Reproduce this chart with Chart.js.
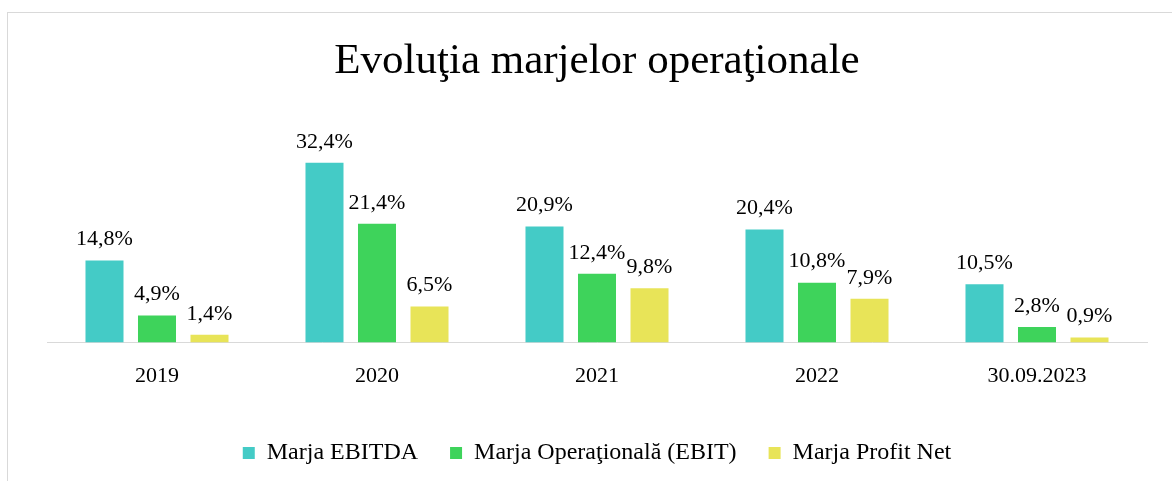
<!DOCTYPE html>
<html>
<head>
<meta charset="utf-8">
<script src="https://cdn.jsdelivr.net/npm/chart.js@4"></script>
<style>
  body { margin: 0; background: #fff; overflow: hidden; }
  #frame { position: absolute; left: 7px; top: 12px; width: 1190px; height: 490px; border: 1px solid #d9d9d9; }
  #marje { position: absolute; left: 0; top: 0; }
</style>
</head>
<body>
<div id="frame"></div>
<canvas id="marje" width="1172" height="481"></canvas>
<script>
var categories = ['2019', '2020', '2021', '2022', '30.09.2023'];
var ebitda = [14.8, 32.4, 20.9, 20.4, 10.5];
var ebit = [4.9, 21.4, 12.4, 10.8, 2.8];
var profitNet = [1.4, 6.5, 9.8, 7.9, 0.9];
var seriesNames = ['Marja EBITDA', 'Marja Operaţională (EBIT)', 'Marja Profit Net'];

var serif = "'Liberation Serif', 'Times New Roman', serif";

// etichete cu valoarea deasupra fiecarei coloane
var valueLabels = {
    id: 'valueLabels',
    afterDatasetsDraw: function(chart) {
        var ctx = chart.ctx;
        ctx.save();
        ctx.font = '22px ' + serif;
        ctx.fillStyle = '#000';
        ctx.textAlign = 'center';
        ctx.textBaseline = 'bottom';
        chart.data.datasets.forEach(function(ds, i) {
            chart.getDatasetMeta(i).data.forEach(function(bar, j) {
                var txt = ds.data[j].toFixed(1).replace('.', ',') + '%';
                ctx.fillText(txt, bar.x, bar.y - 10);
            });
        });
        ctx.restore();
    }
};

var ctx = document.getElementById('marje');
var chart = new Chart(ctx, {
    type: 'bar',
    data: {
        labels: categories,
        datasets: [
            { label: seriesNames[0], data: ebitda, backgroundColor: '#44cbc6' },
            { label: seriesNames[1], data: ebit, backgroundColor: '#3ed35b' },
            { label: seriesNames[2], data: profitNet, backgroundColor: '#e8e458' }
        ]
    },
    options: {
        responsive: false,
        animation: false,
        datasets: {
            bar: { categoryPercentage: 0.716, barPercentage: 0.724 }
        },
        layout: { padding: { left: 47, right: 25, top: 0, bottom: 6 } },
        scales: {
            x: {
                grid: { display: false, drawTicks: false },
                border: { display: true, color: '#d9d9d9', width: 1 },
                ticks: { color: '#000', font: { family: serif, size: 22 }, padding: 20 }
            },
            y: {
                display: false,
                min: 0,
                max: 40
            }
        },
        plugins: {
            title: {
                display: true,
                text: 'Evoluţia marjelor operaţionale',
                color: '#000',
                font: { family: serif, size: 43, weight: 'normal' },
                padding: { top: 36, bottom: 33 }
            },
            legend: {
                position: 'bottom',
                labels: {
                    color: '#000',
                    font: { family: serif, size: 24 },
                    boxWidth: 12,
                    boxHeight: 12,
                    padding: 32
                }
            },
            tooltip: { enabled: false }
        }
    },
    plugins: [valueLabels]
});
</script>
</body>
</html>
